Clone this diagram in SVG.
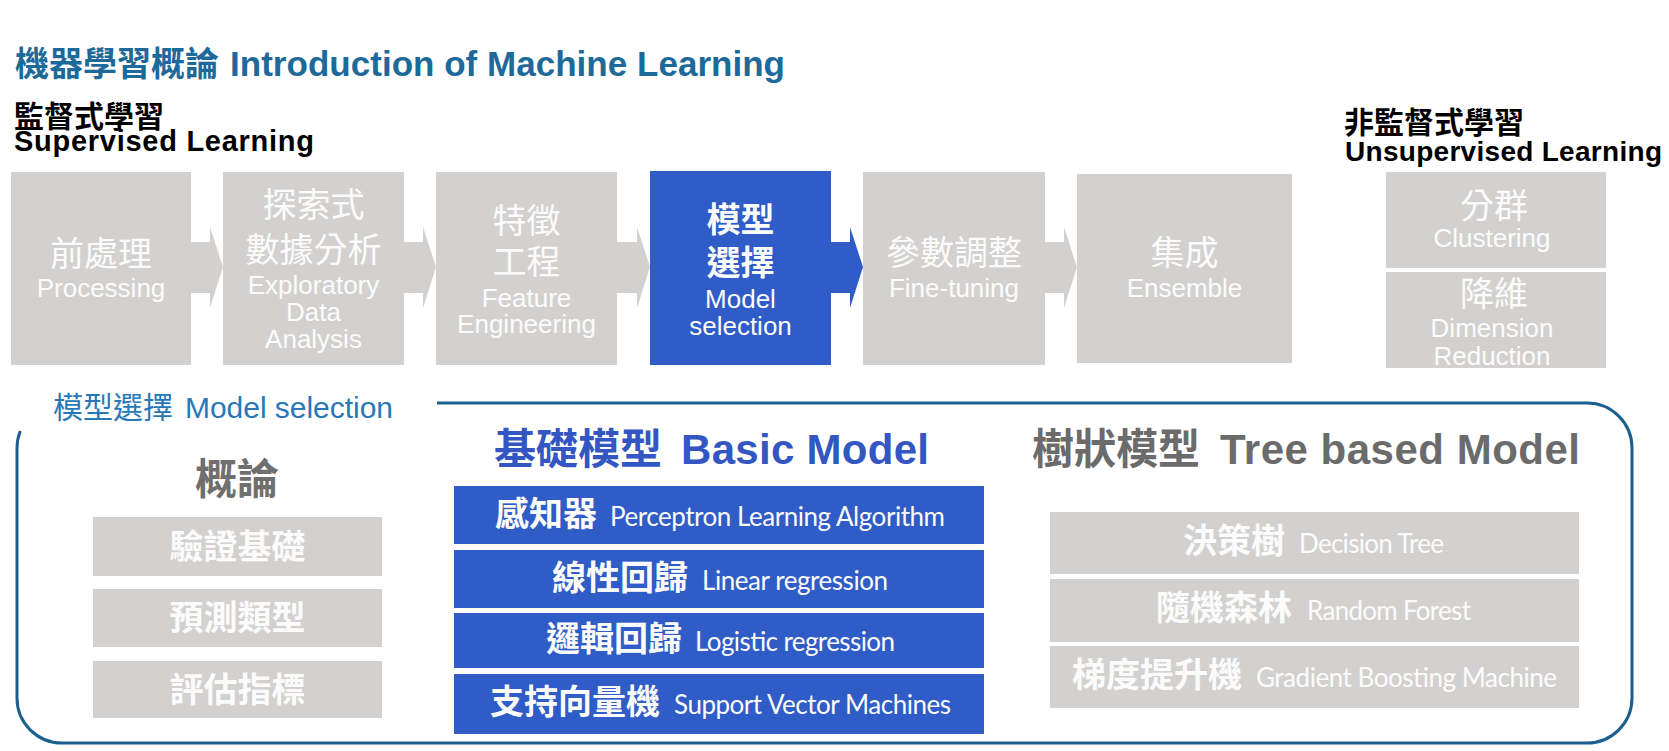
<svg xmlns="http://www.w3.org/2000/svg" width="1669" height="751" viewBox="0 0 1669 751">
<style>
.cjk{font-family:"Noto Sans CJK TC","Noto Sans CJK SC",sans-serif}
.lat{font-family:"Liberation Sans",Arial,sans-serif}
.cal{font-family:Lato,"Liberation Sans",sans-serif}
.b{font-weight:bold}
.gray{fill:#d3d1cf}
.blue{fill:#2f5cc6}
.wt{fill:#fbfbfb}
.mid{text-anchor:middle}
.frame{fill:none;stroke:#1b5f8f;stroke-width:3}
</style>
<rect width="1669" height="751" fill="#ffffff"/>

<g id="title">
<text class="cjk b" x="15" y="76" font-size="34" fill="#1d6a9a">機器學習概論</text>
<text class="lat b" x="230" y="76" font-size="35" fill="#1d6a9a" textLength="555">Introduction of Machine Learning</text>
</g>

<g id="supervised-label">
<text class="cjk b" x="14" y="127" font-size="30" fill="#000">監督式學習</text>
<text class="lat b" x="14" y="151" font-size="29" fill="#000" textLength="300">Supervised Learning</text>
</g>

<g id="unsupervised-label">
<text class="cjk b" x="1344" y="133" font-size="30" fill="#000">非監督式學習</text>
<text class="lat b" x="1345" y="161" font-size="28" fill="#000" textLength="317">Unsupervised Learning</text>
</g>

<g id="connectors">
<polygon class="gray" points="191,242 210,242 210,227 223,267 210,308 210,293 191,293"/>
<polygon class="gray" points="404,242 423,242 423,227 436,267 423,308 423,293 404,293"/>
<polygon class="gray" points="617,242 637,242 637,227 650,267 637,308 637,293 617,293"/>
<polygon class="blue" points="831,242 850,242 850,227 863,267 850,308 850,293 831,293"/>
<polygon class="gray" points="1045,242 1064,242 1064,227 1077,267 1064,308 1064,293 1045,293"/>
</g>

<g id="preprocessing">
<rect class="gray" x="11" y="172" width="180" height="193"/>
<text class="cjk wt mid" x="101" y="266" font-size="34">前處理</text>
<text class="lat wt mid" x="101" y="297" font-size="26">Processing</text>
</g>

<g id="eda">
<rect class="gray" x="223" y="172" width="181" height="193"/>
<text class="cjk wt mid" x="313.5" y="217" font-size="34">探索式</text>
<text class="cjk wt mid" x="313.5" y="262" font-size="34">數據分析</text>
<text class="lat wt mid" x="313.5" y="294" font-size="26">Exploratory</text>
<text class="lat wt mid" x="313.5" y="321" font-size="26">Data</text>
<text class="lat wt mid" x="313.5" y="348" font-size="26">Analysis</text>
</g>

<g id="feature-engineering">
<rect class="gray" x="436" y="172" width="181" height="193"/>
<text class="cjk wt mid" x="526.5" y="233" font-size="34">特徵</text>
<text class="cjk wt mid" x="526.5" y="274" font-size="34">工程</text>
<text class="lat wt mid" x="526.5" y="307" font-size="26">Feature</text>
<text class="lat wt mid" x="526.5" y="333" font-size="26">Engineering</text>
</g>

<g id="model-selection">
<rect class="blue" x="650" y="171" width="181" height="194"/>
<text class="cjk b wt mid" x="740.5" y="232" font-size="34">模型</text>
<text class="cjk b wt mid" x="740.5" y="275" font-size="34">選擇</text>
<text class="lat wt mid" x="740.5" y="308" font-size="26">Model</text>
<text class="lat wt mid" x="740.5" y="335" font-size="26">selection</text>
</g>

<g id="fine-tuning">
<rect class="gray" x="863" y="172" width="182" height="193"/>
<text class="cjk wt mid" x="954" y="265" font-size="34">參數調整</text>
<text class="lat wt mid" x="954" y="297" font-size="26">Fine-tuning</text>
</g>

<g id="ensemble">
<rect class="gray" x="1077" y="174" width="215" height="189"/>
<text class="cjk wt mid" x="1184.5" y="265" font-size="34">集成</text>
<text class="lat wt mid" x="1184.5" y="297" font-size="26">Ensemble</text>
</g>

<g id="clustering">
<rect class="gray" x="1386" y="172" width="220" height="96"/>
<text class="cjk wt mid" x="1494" y="218" font-size="34">分群</text>
<text class="lat wt mid" x="1492" y="247" font-size="26">Clustering</text>
</g>

<g id="dimension-reduction">
<rect class="gray" x="1386" y="272" width="220" height="96"/>
<text class="cjk wt mid" x="1494" y="306" font-size="34">降維</text>
<text class="lat wt mid" x="1492" y="337" font-size="26">Dimension</text>
<text class="lat wt mid" x="1492" y="365" font-size="26">Reduction</text>
</g>

<g id="model-selection-panel">
<path class="frame" d="M20.3,431 A45,45 0 0 0 17,448 L17,698 A45,45 0 0 0 62,743 L1587,743 A45,45 0 0 0 1632,698 L1632,448 A45,45 0 0 0 1587,403 L437,403"/>
<text class="cjk" x="53" y="418" font-size="30" fill="#2878b8">模型選擇</text>
<text class="lat" x="185" y="418" font-size="30" fill="#2878b8" textLength="208">Model selection</text>
</g>

<g id="overview">
<text class="cjk b mid" x="237" y="494" font-size="42" fill="#6f6f6f">概論</text>
<rect class="gray" x="93" y="517" width="289" height="59"/>
<text class="cjk b wt mid" x="237.5" y="559" font-size="34">驗證基礎</text>
<rect class="gray" x="93" y="589" width="289" height="58"/>
<text class="cjk b wt mid" x="237.5" y="630" font-size="34">預測類型</text>
<rect class="gray" x="93" y="661" width="289" height="57"/>
<text class="cjk b wt mid" x="237.5" y="702" font-size="34">評估指標</text>
</g>

<g id="basic-model">
<text class="cjk b" x="494" y="464" font-size="42" fill="#3356c2">基礎模型</text>
<text class="lat b" x="681" y="464" font-size="42" fill="#3356c2" textLength="248">Basic Model</text>
<rect class="blue" x="454" y="486" width="530" height="58"/>
<text class="cjk b wt" x="495" y="526" font-size="34">感知器</text>
<text class="cal wt" x="610" y="526" font-size="26" textLength="335">Perceptron Learning Algorithm</text>
<rect class="blue" x="454" y="550" width="530" height="58"/>
<text class="cjk b wt" x="552" y="590" font-size="34">線性回歸</text>
<text class="cal wt" x="702" y="590" font-size="26" textLength="186">Linear regression</text>
<rect class="blue" x="454" y="613" width="530" height="55"/>
<text class="cjk b wt" x="546" y="651" font-size="34">邏輯回歸</text>
<text class="cal wt" x="695" y="651" font-size="26" textLength="200">Logistic regression</text>
<rect class="blue" x="454" y="674" width="530" height="60"/>
<text class="cjk b wt" x="490" y="714" font-size="34">支持向量機</text>
<text class="cal wt" x="674" y="714" font-size="26" textLength="277">Support Vector Machines</text>
</g>

<g id="tree-model">
<text class="cjk b" x="1032" y="464" font-size="42" fill="#6b6b6b">樹狀模型</text>
<text class="lat b" x="1220" y="464" font-size="42" fill="#6b6b6b" textLength="360">Tree based Model</text>
<rect class="gray" x="1050" y="512" width="529" height="62"/>
<text class="cjk b wt" x="1183" y="553" font-size="34">決策樹</text>
<text class="cal wt" x="1299" y="553" font-size="26" textLength="145">Decision Tree</text>
<rect class="gray" x="1050" y="579" width="529" height="63"/>
<text class="cjk b wt" x="1156" y="620" font-size="34">隨機森林</text>
<text class="cal wt" x="1307" y="620" font-size="26" textLength="164">Random Forest</text>
<rect class="gray" x="1050" y="646" width="529" height="62"/>
<text class="cjk b wt" x="1072" y="687" font-size="34">梯度提升機</text>
<text class="cal wt" x="1256" y="687" font-size="26" textLength="301">Gradient Boosting Machine</text>
</g>
</svg>
